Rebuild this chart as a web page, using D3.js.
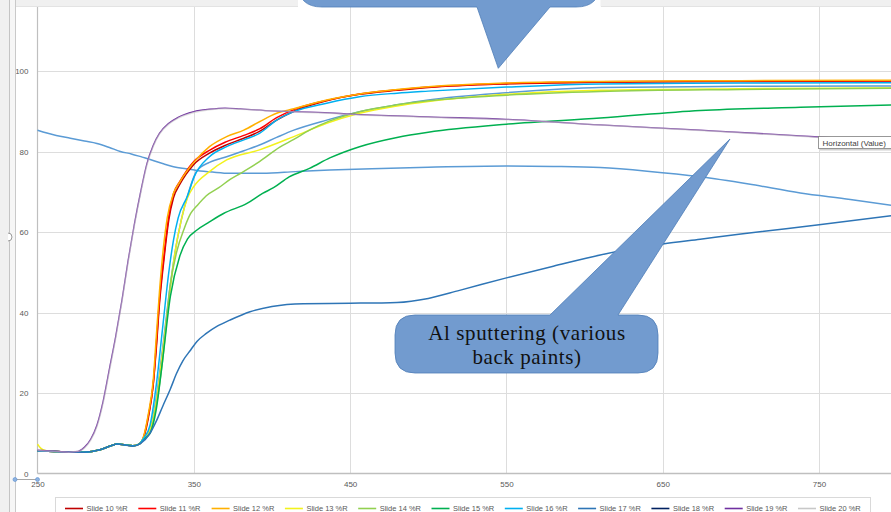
<!DOCTYPE html>
<html>
<head>
<meta charset="utf-8">
<script src="https://cdn.jsdelivr.net/npm/d3@7"></script>
<style>
  html, body { margin: 0; padding: 0; background: #fff; }
  svg { display: block; font-family: "Liberation Sans", Arial, sans-serif; }
</style>
</head>
<body>
<svg id="chart" width="891" height="512"></svg>
<script>
// Reflectance (%R) vs wavelength (nm), one [wavelength, %R] list per sample
const slide10 = [[250,5.6],[265,5.4],[280,5.3],[290,5.9],[297,6.9],[301,7.3],[306,7.1],[311,6.9],[315,7.3],[318,9],[321,14],[324,22],[326,31],[328,42],[330,50],[332,57],[334,63],[337,68.5],[341,71.8],[345,74.3],[350,76.8],[360,79.6],[370,81.5],[382,83.3],[392,85],[403,87.8],[414,90],[435,92.6],[456,94.2],[480,95.2],[500,95.9],[550,96.8],[610,97.2],[700,97.4],[800,97.5]];
const slide11 = [[250,5.6],[265,5.4],[280,5.3],[290,5.9],[297,6.9],[301,7.3],[306,7.1],[311,6.9],[315,7.3],[318,9.2],[321,14.5],[324,22],[326,32],[328,43],[330,51],[332,58],[334,64],[337,69.5],[341,72.5],[345,75],[350,77.5],[360,80.3],[370,82.3],[382,84],[392,85.6],[403,88.4],[414,90.4],[435,92.7],[456,94.3],[480,95.3],[500,96],[550,96.9],[610,97.3],[700,97.5],[800,97.6]];
const slide12 = [[250,5.6],[265,5.4],[280,5.3],[290,5.9],[297,6.9],[301,7.3],[306,7.1],[311,6.9],[315,7.3],[318,9.4],[321,15],[324,23],[326,34],[328,45],[330,54],[333,63.5],[337,69.6],[341,72.4],[345,74.8],[350,77.3],[360,81.2],[371,83.7],[382,85.3],[392,87.4],[403,89.5],[414,90.6],[435,92.8],[456,94.3],[480,95.4],[500,96.1],[550,97],[610,97.4],[700,97.6],[800,97.7]];
const slide13 = [[250,7.3],[252,6.3],[255,5.7],[265,5.4],[280,5.3],[290,5.9],[297,6.9],[301,7.3],[306,7.1],[311,6.9],[315,7.3],[318,8.8],[322,11],[326,18],[330,30],[334,43],[338,55],[342,63],[346,68.5],[350,71.3],[360,75],[371,77.9],[392,80.4],[414,83.7],[435,87],[456,89.5],[480,91.3],[500,92.4],[550,94.2],[610,95.2],[700,95.6],[800,95.8]];
const slide14 = [[250,5.6],[265,5.4],[280,5.3],[290,5.9],[297,6.9],[301,7.3],[306,7.1],[311,6.9],[315,7.3],[318,8.6],[322,10],[326,17],[330,28],[335,47],[339,55],[344,61],[348,64.6],[352,66.5],[358,69],[366,71],[373,73],[380,74.6],[392,77.5],[405,81.1],[414,83],[424,85.3],[437,87.6],[456,89.9],[480,91.6],[500,92.6],[550,94],[610,94.9],[700,95.4],[800,95.7]];
const slide15 = [[250,5.6],[265,5.4],[280,5.3],[290,5.9],[297,6.9],[301,7.3],[306,7.1],[311,6.9],[315,7.3],[318,8.5],[322,10],[326,16],[330,28],[335,44],[341,54],[346,58.3],[352,60.5],[360,62.5],[369,64.6],[384,67.1],[394,69.6],[401,71],[411,73.7],[424,75.8],[437,78.4],[456,81.2],[480,83.5],[500,84.8],[550,86.8],[610,88.3],[674,90.2],[738,91],[800,91.6]];
const slide16 = [[250,5.6],[265,5.4],[280,5.3],[290,5.9],[297,6.9],[301,7.3],[306,7.1],[311,6.9],[315,7.3],[318,8.8],[322,12],[326,22],[330,36],[334,50],[337,58],[340,63.5],[346,69],[350,73.5],[360,78.7],[371,81.2],[382,82.9],[392,84.5],[403,87.8],[414,89.9],[435,92],[456,93.6],[480,94.5],[500,95],[550,96],[610,96.8],[700,97],[800,97.1]];
const slide17 = [[250,5.6],[265,5.4],[280,5.3],[290,5.9],[297,6.9],[301,7.3],[306,7.1],[311,6.8],[316,7.5],[322,10],[326,13],[330,16.6],[335,21],[339,24.9],[343,28],[348,30.7],[352,32.8],[358,34.8],[365,36.6],[373,38.1],[386,40.2],[400,41.5],[420,42.2],[450,42.3],[480,42.5],[500,43.5],[520,45.5],[550,48.6],[580,51.5],[610,54.3],[650,57],[674,58.2],[700,59.5],[750,61.8],[800,64.2]];
const slide18 = [];
const slide19 = [[250,5.8],[260,5.6],[270,5.3],[276,5.5],[280,6.5],[284,8.5],[288,12],[292,18],[296,26],[300,34],[304,43],[308,53],[312,62],[316,70],[320,77],[324,81.5],[328,84.5],[334,87],[340,88.5],[350,89.9],[360,90.5],[370,90.8],[380,90.6],[400,90.1],[437,89.6],[450,89.3],[500,88.6],[550,88],[610,86.6],[674,85.3],[738,83.9],[750,83.6],[800,82.5]];
const slide20 = [[250,5.7],[260,5.5],[270,5.3],[276,5.5],[280,6.3],[284,8.2],[288,11.6],[292,17.5],[296,25.4],[300,33.5],[304,42.6],[308,52.5],[312,61.6],[316,69.6],[320,76.6],[324,81.2],[328,84.3],[334,86.8],[340,88.3],[350,89.7],[360,90.4],[370,90.6],[380,90.5],[400,90.1],[437,89.5],[450,89.2],[500,88.5],[550,87.9],[610,86.6],[674,85.2],[738,83.8],[750,83.5],[800,82.4]];
// two unlabelled traces
const traceA = [[250,5.6],[265,5.4],[280,5.3],[290,5.9],[297,6.9],[301,7.3],[306,7.1],[311,6.9],[315,7.3],[318,8.7],[322,11],[326,19],[330,31],[334,44],[338,55],[342,63],[346,69],[352,75.2],[360,77.3],[371,78.7],[382,80.2],[392,81.6],[403,83.5],[414,85.3],[435,87.8],[456,89.9],[480,91.6],[500,92.8],[550,94.6],[610,95.9],[700,96.2],[800,96.3]];
const traceB = [[250,85.3],[256,84.6],[262,84],[271,83.3],[280,82.6],[288,82],[296,81],[303,80],[310,79.4],[317,78.6],[323,77.9],[330,77],[337,76.2],[345,75.7],[352,75.3],[362,74.9],[373,74.6],[394,74.6],[415,75],[437,75.4],[470,75.8],[500,76.1],[550,76.4],[580,76.3],[610,76.0],[640,75.1],[674,73.7],[705,71.9],[738,69.7],[770,68.1],[800,66.4]];

const seriesNames = ["Slide 10 %R","Slide 11 %R","Slide 12 %R","Slide 13 %R","Slide 14 %R","Slide 15 %R","Slide 16 %R","Slide 17 %R","Slide 18 %R","Slide 19 %R","Slide 20 %R"];
const seriesData = [slide10, slide11, slide12, slide13, slide14, slide15, slide16, slide17, slide18, slide19, slide20];
const seriesColors = ["#C00000","#FF0000","#FFB000","#F2F21C","#92D050","#00B050","#00B0F0","#2E75B6","#002060","#7030A0","#C8C8C8"];
const xTicks = [250, 350, 450, 550, 650, 750];
const yTicks = [0, 20, 40, 60, 80, 100];

const svg = d3.select("#chart");
const W = 891, H = 512;

const x = d3.scaleLinear().domain([250, 800]).range([37.5, 897.2]);
const y = d3.scaleLinear().domain([0, 120]).range([473.5, -9.5]);

svg.append("rect").attr("x", 0).attr("y", 0).attr("width", W).attr("height", H).attr("fill", "#ffffff");

// gridlines
const grid = svg.append("g");
grid.selectAll("line.h").data(yTicks.filter(d => d > 0)).join("line")
  .attr("x1", x(250)).attr("x2", W).attr("y1", d => Math.round(y(d)) + 0.5).attr("y2", d => Math.round(y(d)) + 0.5)
  .attr("stroke", "#DDDDDD").attr("stroke-width", 1);
grid.selectAll("line.v").data(xTicks.filter(d => d > 250)).join("line")
  .attr("x1", d => Math.round(x(d)) + 0.5).attr("x2", d => Math.round(x(d)) + 0.5).attr("y1", 7).attr("y2", y(0))
  .attr("stroke", "#DDDDDD").attr("stroke-width", 1);

// axes
const xAxis = d3.axisBottom(x).tickValues(xTicks).tickSize(0).tickPadding(8).tickFormat(d3.format("d"));
const gx = svg.append("g").attr("transform", `translate(0,${y(0)})`).call(xAxis);
gx.select(".domain").attr("stroke", "#BFBFBF").attr("stroke-width", 1.5).attr("d", `M${x(250)},0H${W}`);
gx.selectAll("text").attr("fill", "#595959").attr("font-size", 8);

const yAxis = d3.axisLeft(y).tickValues(yTicks).tickSize(0).tickPadding(9);
const gy = svg.append("g").attr("transform", `translate(${x(250)},0)`).call(yAxis);
gy.select(".domain").attr("stroke", "#BFBFBF").attr("stroke-width", 1.2).attr("d", `M0,7V${y(0)}`);
gy.selectAll("text").attr("fill", "#595959").attr("font-size", 8);

// series lines
const line = d3.line().x(d => x(d[0])).y(d => y(d[1])).curve(d3.curveMonotoneX);
const plot = svg.append("g");
[traceB, traceA].forEach(tr => {
  plot.append("path").attr("d", line(tr)).attr("fill", "none")
    .attr("stroke", "#5B9BD5").attr("stroke-width", 1.5).attr("stroke-linejoin", "round");
});
seriesData.forEach((s, i) => {
  if (!s.length) return;
  plot.append("path").attr("d", line(s)).attr("fill", "none")
    .attr("stroke", seriesColors[i])
    .attr("stroke-width", i === 9 ? 1.3 : 1.5)
    .attr("stroke-opacity", i === 10 ? 0.55 : 1)
    .attr("stroke-linejoin", "round");
});

// legend
const lg = svg.append("g");
lg.append("rect").attr("x", 55.5).attr("y", 497.5).attr("width", 815).attr("height", 20)
  .attr("fill", "#fff").attr("stroke", "#D9D9D9");
const item = lg.selectAll("g.item").data(seriesNames).join("g")
  .attr("transform", (d, i) => `translate(${65 + i * 73.3},0)`);
item.append("line").attr("x1", 0).attr("x2", 18).attr("y1", 508.5).attr("y2", 508.5)
  .attr("stroke", (d, i) => seriesColors[i]).attr("stroke-width", 1.6);
item.append("text").attr("x", 21.5).attr("y", 511).attr("font-size", 7.5).attr("fill", "#595959").text(d => d);

// callout pointing down from the top
const calloutFill = "#729BCF", calloutStroke = "#4F7DB8";
svg.append("path")
  .attr("d", "M298,-30 L600,-30 L600,-17 Q600,7 576,7 L550,7 L498.3,68.3 L477,7 L322,7 Q298,7 298,-17 Z")
  .attr("fill", calloutFill).attr("stroke", calloutStroke).attr("stroke-width", 0.8);

// top and left window edges
svg.append("rect").attr("x", 0).attr("y", 0).attr("width", 298).attr("height", 6.5).attr("fill", "#F0F0F0");
svg.append("rect").attr("x", 600.5).attr("y", 0).attr("width", W - 600).attr("height", 6.5).attr("fill", "#F0F0F0");
svg.append("line").attr("x1", 0).attr("x2", 298).attr("y1", 6.5).attr("y2", 6.5).attr("stroke", "#E3E3E3");
svg.append("line").attr("x1", 601).attr("x2", W).attr("y1", 6.5).attr("y2", 6.5).attr("stroke", "#E3E3E3");
svg.append("rect").attr("x", 0).attr("y", 0).attr("width", 9).attr("height", H).attr("fill", "#F0F0F0");
svg.append("rect").attr("x", 10).attr("y", 0).attr("width", 5).attr("height", H).attr("fill", "#F6F6F6");
svg.append("line").attr("x1", 9.5).attr("x2", 9.5).attr("y1", 0).attr("y2", H).attr("stroke", "#C4C4C4");
svg.append("line").attr("x1", 15.5).attr("x2", 15.5).attr("y1", 0).attr("y2", H).attr("stroke", "#C9C9C9");

// selection handles
svg.append("path").attr("d", "M8,233 A4,4 0 0 1 8,241").attr("fill", "#fff").attr("stroke", "#9A9A9A");
svg.append("line").attr("x1", 15).attr("x2", 37.5).attr("y1", 479.5).attr("y2", 479.5).attr("stroke", "#A6A6A6");
[15, 37.5].forEach(cx => svg.append("circle").attr("cx", cx).attr("cy", 479.5).attr("r", 2)
  .attr("fill", "#8DB3E2").attr("stroke", "#5B8ED0").attr("stroke-width", 0.6));

// callout with annotation text
svg.append("path")
  .attr("d", "M415,315 L550,315 L730,139 L618,315 L638,315 Q658,315 658,335 L658,353 Q658,373 638,373 L415,373 Q395,373 395,353 L395,335 Q395,315 415,315 Z")
  .attr("fill", calloutFill).attr("stroke", calloutStroke).attr("stroke-width", 0.8);
const note = svg.append("text").attr("font-family", "'Liberation Serif', 'DejaVu Serif', serif")
  .attr("font-size", 21).attr("letter-spacing", 0.6).attr("fill", "#111").attr("text-anchor", "middle");
note.append("tspan").attr("x", 527).attr("y", 340).text("Al sputtering (various");
note.append("tspan").attr("x", 527).attr("y", 363.5).text("back paints)");

// hover tag
const tip = svg.append("g");
tip.append("rect").attr("x", 820).attr("y", 138.5).attr("width", 80).attr("height", 12).attr("fill", "#D0D0D0");
tip.append("rect").attr("x", 818.5).attr("y", 136.5).attr("width", 80).attr("height", 12).attr("fill", "#fff").attr("stroke", "#7F7F7F").attr("stroke-width", 0.8);
tip.append("text").attr("x", 822.5).attr("y", 145.5).attr("font-size", 8).attr("fill", "#404040").text("Horizontal (Value)");
</script>
</body>
</html>
